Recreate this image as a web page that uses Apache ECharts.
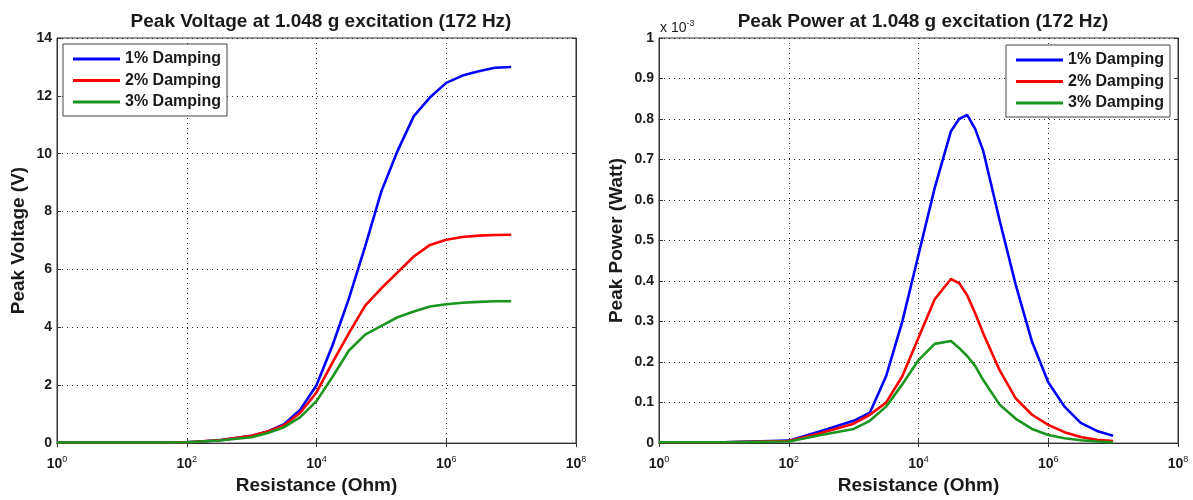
<!DOCTYPE html>
<html>
<head>
<meta charset="utf-8">
<script src="https://cdn.jsdelivr.net/npm/echarts@6/dist/echarts.min.js"></script>
<style>
  html, body { margin: 0; padding: 0; background: #fff; }
  #chart { width: 1193px; height: 500px; }
</style>
</head>
<body>
<div id="chart"></div>
<script>
// Load resistance sweep (Ohm) used for the voltage curves
const resistanceVoltage = [1, 10, 31.6, 100, 316, 1000, 1778, 3162, 5623, 10000, 17783, 31623,
  56234, 100000, 177828, 316228, 562341, 1000000, 1778279, 3162278, 5623413, 10000000];

// Peak voltage (V) for each damping ratio
const voltage1 = [0.02, 0.02, 0.02, 0.03, 0.1, 0.25, 0.4, 0.65, 1.15, 2.0, 3.4, 5.0,
  6.8, 8.7, 10.1, 11.3, 11.95, 12.45, 12.7, 12.85, 12.97, 13.0];
const voltage2 = [0.02, 0.02, 0.02, 0.03, 0.1, 0.25, 0.4, 0.62, 1.05, 1.75, 2.8, 3.8,
  4.75, 5.35, 5.9, 6.45, 6.85, 7.03, 7.12, 7.17, 7.19, 7.2];
const voltage3 = [0.02, 0.02, 0.02, 0.03, 0.09, 0.2, 0.35, 0.55, 0.9, 1.45, 2.3, 3.2,
  3.75, 4.05, 4.35, 4.55, 4.72, 4.8, 4.85, 4.88, 4.9, 4.9];

// Load resistance sweep (Ohm) used for the power curves
const resistancePower = [1, 10, 100, 316, 1000, 1778, 3162, 5623, 10000, 17783, 31623, 42170,
  56234, 74989, 100000, 177828, 316228, 562341, 1000000, 1778279, 3162278, 5623413, 10000000];

// Peak power (W) for each damping ratio
const power1 = [0.002e-3, 0.002e-3, 0.006e-3, 0.03e-3, 0.055e-3, 0.075e-3, 0.165e-3, 0.3e-3,
  0.465e-3, 0.63e-3, 0.77e-3, 0.80e-3, 0.81e-3, 0.775e-3, 0.72e-3, 0.55e-3, 0.39e-3, 0.25e-3,
  0.15e-3, 0.09e-3, 0.05e-3, 0.03e-3, 0.018e-3];
const power2 = [0.002e-3, 0.002e-3, 0.005e-3, 0.025e-3, 0.048e-3, 0.07e-3, 0.1e-3, 0.165e-3,
  0.26e-3, 0.355e-3, 0.405e-3, 0.395e-3, 0.365e-3, 0.32e-3, 0.27e-3, 0.18e-3, 0.11e-3, 0.07e-3,
  0.045e-3, 0.027e-3, 0.015e-3, 0.008e-3, 0.005e-3];
const power3 = [0.002e-3, 0.002e-3, 0.004e-3, 0.02e-3, 0.035e-3, 0.055e-3, 0.09e-3, 0.145e-3,
  0.205e-3, 0.245e-3, 0.252e-3, 0.235e-3, 0.215e-3, 0.19e-3, 0.155e-3, 0.095e-3, 0.06e-3,
  0.035e-3, 0.02e-3, 0.012e-3, 0.007e-3, 0.004e-3, 0.002e-3];

const seriesNames = ['1% Damping', '2% Damping', '3% Damping'];
const seriesColors = ['#0000ff', '#ff0000', '#1a961e'];

const voltageTicks = { min: 0, max: 14, interval: 2 };
const powerTicks = { min: 0, max: 0.001, interval: 0.0001 };

const FONT = '"Liberation Sans", Arial, Helvetica, sans-serif';
const TEXT = '#1a1a1a';

function pairs(xs, ys) { return xs.map((x, i) => [x, ys[i]]); }

const logLabel = {
  color: TEXT,
  fontFamily: FONT,
  margin: 12,
  formatter: v => '{b|10}{s|' + Math.round(Math.log10(v)) + '}',
  rich: {
    b: { fontSize: 14, fontWeight: 'bold', fontFamily: FONT, color: TEXT },
    s: { fontSize: 9, fontFamily: FONT, color: TEXT, padding: [0, 0, 9, 0] }
  }
};

const tickStyle = { show: true, inside: true, length: 4, lineStyle: { color: '#333' } };
const gridDots = { show: true, lineStyle: { color: '#222', type: [1, 4], width: 1 } };

// Bottom log axis with labels, plus a bare top axis carrying only the box ticks
function xAxes(gridIndex) {
  return [{
    type: 'log', gridIndex, logBase: 100, min: 1, max: 1e8, position: 'bottom',
    name: 'Resistance (Ohm)', nameLocation: 'middle', nameGap: 32,
    nameTextStyle: { fontSize: 19, fontWeight: 'bold', fontFamily: FONT, color: TEXT },
    axisLine: { show: true, lineStyle: { color: '#333', width: 1 } },
    axisTick: tickStyle,
    minorTick: { show: false },
    axisLabel: logLabel,
    splitLine: gridDots
  }, {
    type: 'log', gridIndex, logBase: 100, min: 1, max: 1e8, position: 'top',
    axisLine: { show: true, lineStyle: { color: '#333', width: 1 } },
    axisTick: tickStyle, axisLabel: { show: false }, splitLine: { show: false }
  }];
}

function yAxes(gridIndex, ticks, name, nameGap, fmt) {
  return [{
    type: 'value', gridIndex, min: ticks.min, max: ticks.max, interval: ticks.interval, position: 'left',
    name, nameLocation: 'middle', nameGap,
    nameTextStyle: { fontSize: 19, fontWeight: 'bold', fontFamily: FONT, color: TEXT },
    axisLine: { show: true, lineStyle: { color: '#333', width: 1 } },
    axisTick: tickStyle,
    axisLabel: { fontSize: 14, fontWeight: 'bold', fontFamily: FONT, color: TEXT, margin: 5, formatter: fmt },
    splitLine: gridDots
  }, {
    type: 'value', gridIndex, min: ticks.min, max: ticks.max, interval: ticks.interval, position: 'right',
    axisLine: { show: true, lineStyle: { color: '#333', width: 1 } },
    axisTick: tickStyle, axisLabel: { show: false }, splitLine: { show: false }
  }];
}

// Axis indices: grid 0 uses x0/y0, grid 1 uses x2/y2
function lineSeries(i, gridIndex, xs, ys) {
  return {
    type: 'line', name: seriesNames[i], xAxisIndex: gridIndex * 2, yAxisIndex: gridIndex * 2,
    data: pairs(xs, ys), symbol: 'none', smooth: false,
    lineStyle: { color: seriesColors[i], width: 2.6 },
    itemStyle: { color: seriesColors[i] }
  };
}

const legendBase = {
  orient: 'vertical', top: 44, padding: [7, 6, 6, 10],
  icon: 'rect', itemWidth: 47, itemHeight: 3, itemGap: 5.5,
  backgroundColor: '#fff', borderColor: '#444', borderWidth: 1,
  textStyle: { fontSize: 16, fontWeight: 'bold', fontFamily: FONT, color: TEXT },
  data: seriesNames
};

const chart = echarts.init(document.getElementById('chart'), null, { renderer: 'canvas' });
chart.setOption({
  animation: false,
  backgroundColor: '#fff',
  title: [
    { text: 'Peak Voltage at 1.048 g excitation (172 Hz)', left: 316, top: 7, textAlign: 'center',
      textStyle: { fontSize: 19, fontWeight: 'bold', fontFamily: FONT, color: TEXT } },
    { text: 'Peak Power at 1.048 g excitation (172 Hz)', left: 918, top: 7, textAlign: 'center',
      textStyle: { fontSize: 19, fontWeight: 'bold', fontFamily: FONT, color: TEXT } }
  ],
  grid: [
    { left: 57, right: 617, top: 38, bottom: 56, show: true, borderColor: '#333', borderWidth: 1 },
    { left: 659, right: 15, top: 38, bottom: 56, show: true, borderColor: '#333', borderWidth: 1 }
  ],
  legend: [
    Object.assign({}, legendBase, { left: 63 }),
    Object.assign({}, legendBase, { right: 23, top: 45 })
  ],
  xAxis: [...xAxes(0), ...xAxes(1)],
  yAxis: [
    ...yAxes(0, voltageTicks, 'Peak Voltage (V)', 29, v => String(v)),
    ...yAxes(1, powerTicks, 'Peak Power (Watt)', 33, v => String(+(v * 1000).toFixed(1)))
  ],
  graphic: [{
    type: 'text', left: 660, top: 19,
    style: {
      text: '{a|x 10}{e|-3}',
      rich: {
        a: { fontSize: 14, fontFamily: FONT, fill: TEXT, color: TEXT },
        e: { fontSize: 9, fontFamily: FONT, fill: TEXT, color: TEXT, padding: [0, 0, 10, 0] }
      }
    }
  }],
  series: [
    lineSeries(0, 0, resistanceVoltage, voltage1),
    lineSeries(1, 0, resistanceVoltage, voltage2),
    lineSeries(2, 0, resistanceVoltage, voltage3),
    lineSeries(0, 1, resistancePower, power1),
    lineSeries(1, 1, resistancePower, power2),
    lineSeries(2, 1, resistancePower, power3)
  ]
});
</script>
</body>
</html>
